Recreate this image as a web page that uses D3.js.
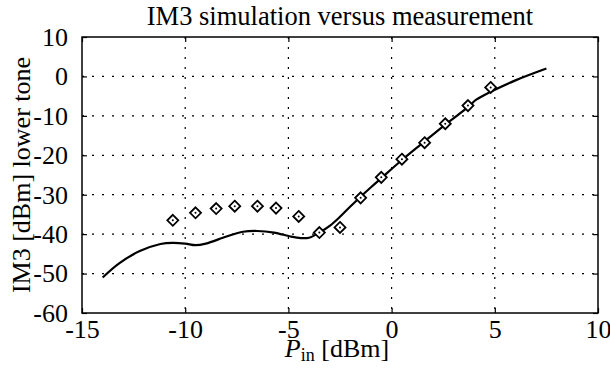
<!DOCTYPE html>
<html lang="en">
<head>
<meta charset="UTF-8">
<title>IM3 simulation versus measurement</title>
<script src="https://d3js.org/d3.v7.min.js"></script>
<style>
  html, body { margin:0; padding:0; background:#fff; }
  svg, svg text { font-family:"Liberation Serif", Tinos, "Times New Roman", Times, serif; fill:#000; }
  .grid line { stroke:#000; stroke-width:1.2; stroke-dasharray:2,8; }
</style>
</head>
<body>
<div id="chart"></div>
<script>
// simulated IM3 (solid line)
const simPin = [-14,-13.2,-12.2,-11.2,-10.6,-10,-9.5,-9,-8,-7.2,-6.5,-5.7,-4.9,-4.4,-4,-3.5,-3,-2.5,-2,-1.5,-1,-0.5,0.5,1.5,2.6,3.7,4.1,4.8,6,7.5];
const simIM3 = [-51,-47.4,-44.3,-42.5,-42.2,-42.4,-42.8,-42.4,-40.6,-39.4,-39.2,-39.6,-40.6,-41,-40.9,-39.6,-37.9,-35.6,-33,-30.5,-28.1,-25.8,-21.2,-16.9,-12.2,-7.8,-5.9,-3.9,-1,2];
// measured IM3 (diamonds)
const measPin = [-10.6,-9.5,-8.5,-7.6,-6.5,-5.6,-4.5,-3.5,-2.5,-1.5,-0.5,0.5,1.6,2.6,3.7,4.8];
const measIM3 = [-36.5,-34.6,-33.5,-32.9,-32.9,-33.4,-35.5,-39.6,-38.3,-30.8,-25.6,-21.0,-16.8,-12.0,-7.4,-2.8];
const xTicks = [-15,-10,-5,0,5,10];
const yTicks = [10,0,-10,-20,-30,-40,-50,-60];

const FONT = "Liberation Serif";
const W=610, H=368;
const m={top:37,right:12,bottom:55,left:82};
const svg=d3.select("#chart").append("svg").attr("width",W).attr("height",H)
  .attr("font-family",FONT);
const x=d3.scaleLinear().domain([-15,10]).range([m.left,W-m.right]);
const y=d3.scaleLinear().domain([-60,10]).range([H-m.bottom,m.top]);

// dotted grid
const grid=svg.append("g").attr("class","grid");
grid.selectAll(".gx").data(xTicks.slice(1,-1)).enter().append("line")
  .attr("x1",d=>x(d)).attr("x2",d=>x(d)).attr("y1",y(10)).attr("y2",y(-60));
grid.selectAll(".gy").data(yTicks.slice(1,-1)).enter().append("line")
  .attr("x1",x(-15)).attr("x2",x(10)).attr("y1",d=>y(d)).attr("y2",d=>y(d));

// axes with inward ticks on all sides
const tk=5;
const fmt=d=>String(d);   // plain hyphen minus like the original
function styleAxis(g){
  g.attr("font-family",FONT).attr("font-size",26);
  g.select(".domain").remove();
  g.selectAll("line").attr("stroke","#000").attr("stroke-width",1.2);
  g.selectAll("text").attr("font-family",FONT);
}
svg.append("g").attr("transform","translate(0,"+y(-60)+")")
  .call(d3.axisBottom(x).tickValues(xTicks).tickSize(-tk).tickPadding(7).tickFormat(fmt))
  .call(styleAxis);
svg.append("g").attr("transform","translate(0,"+y(10)+")")
  .call(d3.axisTop(x).tickValues(xTicks).tickSize(-tk).tickFormat(""))
  .call(styleAxis);
svg.append("g").attr("transform","translate("+x(-15)+",0)")
  .call(d3.axisLeft(y).tickValues(yTicks).tickSize(-tk).tickPadding(14).tickFormat(fmt))
  .call(styleAxis);
svg.append("g").attr("transform","translate("+x(10)+",0)")
  .call(d3.axisRight(y).tickValues(yTicks).tickSize(-tk).tickFormat(""))
  .call(styleAxis);

svg.append("rect").attr("x",x(-15)).attr("y",y(10))
  .attr("width",x(10)-x(-15)).attr("height",y(-60)-y(10))
  .attr("fill","none").attr("stroke","#000").attr("stroke-width",1.5);

// simulation curve
const sim=simPin.map((p,i)=>[p,simIM3[i]]);
svg.append("path").datum(sim)
  .attr("fill","none").attr("stroke","#000").attr("stroke-width",2.2)
  .attr("d",d3.line().x(d=>x(d[0])).y(d=>y(d[1])).curve(d3.curveCatmullRom));

// measurement diamonds
const meas=measPin.map((p,i)=>[p,measIM3[i]]);
const mk=svg.append("g").selectAll("g").data(meas).enter().append("g")
  .attr("transform",d=>"translate("+x(d[0])+","+y(d[1])+")");
mk.append("path").attr("d","M0,-5.5L5.5,0L0,5.5L-5.5,0Z")
  .attr("fill","#fff").attr("stroke","#000").attr("stroke-width",1.8);
mk.append("circle").attr("r",1).attr("fill","#000");

// titles
svg.append("text").attr("x",(x(-15)+x(10))/2).attr("y",25)
  .attr("text-anchor","middle").attr("font-size",26.5)
  .text("IM3 simulation versus measurement");
const xl=svg.append("text").attr("x",(x(-15)+x(10))/2-3).attr("y",357)
  .attr("text-anchor","middle").attr("font-size",26);
xl.append("tspan").attr("font-style","italic").text("P");
xl.append("tspan").attr("font-size",18).attr("dy",4).text("in");
xl.append("tspan").attr("dy",-4).text(" [dBm]");
svg.append("text").attr("transform","translate(30,"+((y(10)+y(-60))/2)+") rotate(-90)")
  .attr("text-anchor","middle").attr("font-size",26)
  .text("IM3 [dBm] lower tone");
</script>
</body>
</html>
